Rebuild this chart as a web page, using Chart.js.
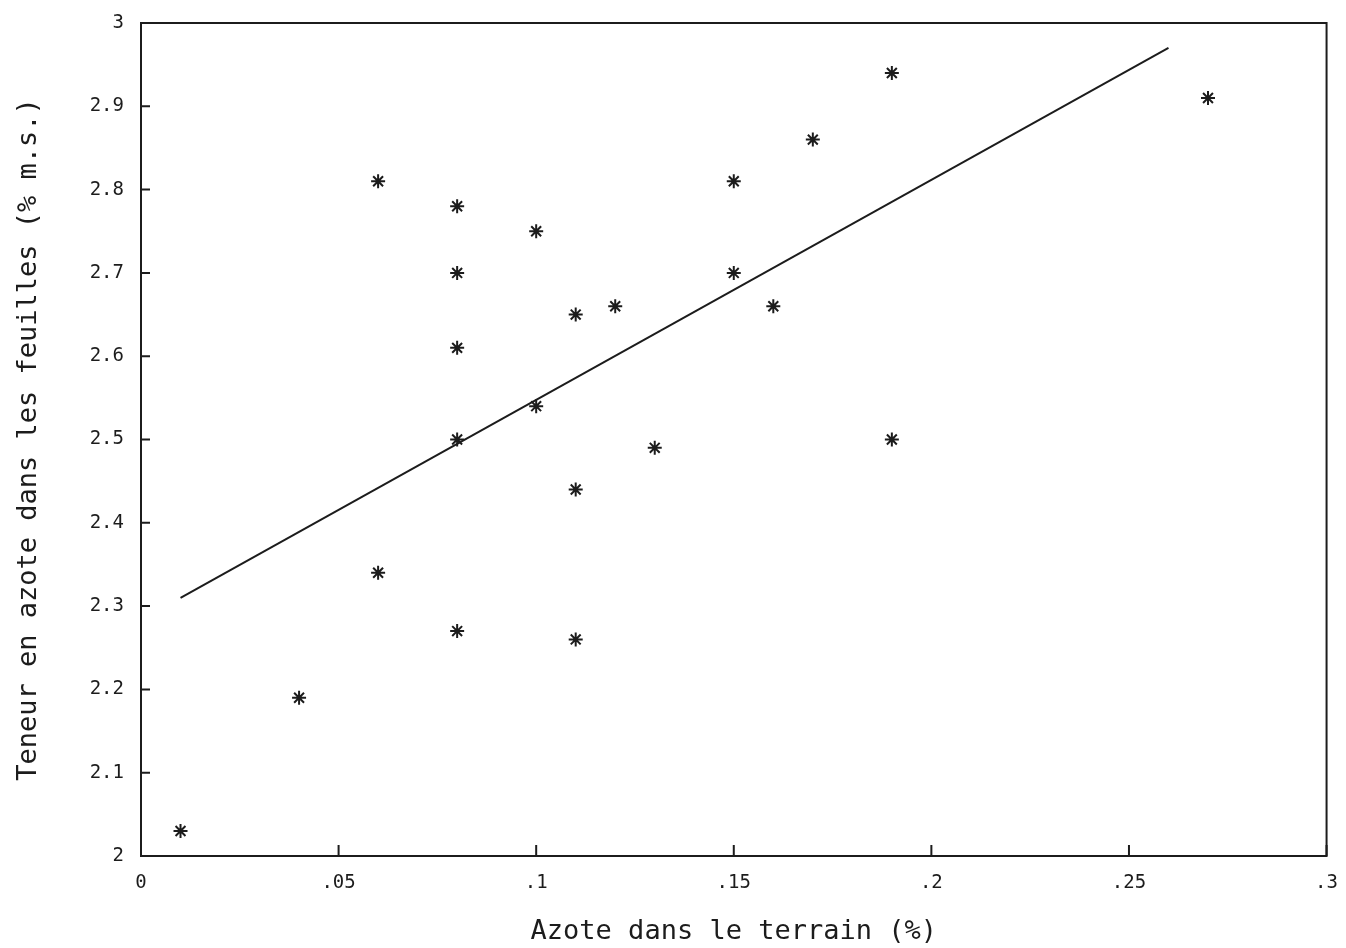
<!DOCTYPE html>
<html>
<head>
<meta charset="utf-8">
<title>Azote terrain / feuilles</title>
<script src="https://cdn.jsdelivr.net/npm/chart.js@4/dist/chart.umd.min.js"></script>
<style>
    html, body { margin: 0; padding: 0; background: #fff; }
    #wrap { width: 1346px; height: 948px; }
</style>
</head>
<body>
<div id="wrap"><canvas id="nitrogenChart" width="1346" height="948"></canvas></div>
<script>
// soil nitrogen (%) vs leaf nitrogen (% m.s.)
const soilN = [0.01, 0.04, 0.06, 0.06, 0.08, 0.08, 0.08, 0.08, 0.08, 0.10, 0.10, 0.11,
               0.11, 0.11, 0.12, 0.13, 0.15, 0.15, 0.16, 0.17, 0.19, 0.19, 0.27];
const leafN = [2.03, 2.19, 2.34, 2.81, 2.78, 2.70, 2.61, 2.50, 2.27, 2.75, 2.54, 2.65,
               2.44, 2.26, 2.66, 2.49, 2.81, 2.70, 2.66, 2.86, 2.94, 2.50, 2.91];

// fitted line, end points only
const fitX = [0.01, 0.26];
const fitY = [2.31, 2.97];

const xTicks = [0, 0.05, 0.1, 0.15, 0.2, 0.25, 0.3];
const yTicks = [2, 2.1, 2.2, 2.3, 2.4, 2.5, 2.6, 2.7, 2.8, 2.9, 3];

const ink = '#1c1c1c';
const monoFont = "'DejaVu Sans Mono', 'Liberation Mono', monospace";

function fmtX(v) {
    let s = String(Math.round(v * 100) / 100);
    return s === '0' ? s : s.replace(/^0/, '');
}

// box round the plot + short inward ticks on left and bottom
const frameAndTicks = {
    id: 'frameAndTicks',
    afterDatasetsDraw(chart) {
        const {ctx, chartArea: a, scales: {x, y}} = chart;
        ctx.save();
        ctx.strokeStyle = ink;
        ctx.lineWidth = 2;
        ctx.strokeRect(a.left, a.top, a.right - a.left, a.bottom - a.top);
        ctx.beginPath();
        xTicks.forEach(v => {
            const px = x.getPixelForValue(v);
            ctx.moveTo(px, a.bottom);
            ctx.lineTo(px, a.bottom - 11);
        });
        yTicks.forEach(v => {
            const py = y.getPixelForValue(v);
            ctx.moveTo(a.left, py);
            ctx.lineTo(a.left + 9, py);
        });
        ctx.stroke();
        ctx.restore();
    }
};

const points = soilN.map((v, i) => ({x: v, y: leafN[i]}));
const fitLine = fitX.map((v, i) => ({x: v, y: fitY[i]}));

new Chart(document.getElementById('nitrogenChart'), {
    type: 'scatter',
    data: {
        datasets: [
            {
                label: 'mesures',
                data: points,
                pointStyle: 'star',
                pointRadius: 7,
                pointBorderWidth: 2,
                borderColor: ink,
                backgroundColor: ink
            },
            {
                label: 'droite',
                data: fitLine,
                showLine: true,
                pointRadius: 0,
                borderWidth: 2,
                borderColor: ink
            }
        ]
    },
    options: {
        responsive: false,
        animation: false,
        layout: { padding: { left: 0, right: 10, top: 23, bottom: 0 } },
        plugins: {
            legend: { display: false },
            tooltip: { enabled: false }
        },
        scales: {
            x: {
                type: 'linear',
                min: 0,
                max: 0.3,
                grid: { display: false },
                border: { display: false },
                afterBuildTicks: s => { s.ticks = xTicks.map(v => ({value: v})); },
                afterFit: s => { s.height = 92; },
                ticks: {
                    color: ink,
                    padding: 8,
                    maxRotation: 0,
                    font: { family: monoFont, size: 19 },
                    callback: v => fmtX(v)
                },
                title: {
                    display: true,
                    text: 'Azote dans le terrain (%)',
                    color: ink,
                    font: { family: monoFont, size: 27 },
                    padding: { top: 0, bottom: 0 }
                }
            },
            y: {
                type: 'linear',
                min: 2,
                max: 3,
                grid: { display: false },
                border: { display: false },
                afterBuildTicks: s => { s.ticks = yTicks.map(v => ({value: v})); },
                afterFit: s => { s.width = 141; },
                ticks: {
                    color: ink,
                    padding: 9,
                    font: { family: monoFont, size: 19 },
                    callback: v => String(Math.round(v * 10) / 10)
                },
                title: {
                    display: true,
                    text: 'Teneur en azote dans les feuilles (% m.s.)',
                    color: ink,
                    font: { family: monoFont, size: 27 },
                    padding: { top: 13, bottom: 0 }
                }
            }
        }
    },
    plugins: [frameAndTicks]
});
</script>
</body>
</html>
